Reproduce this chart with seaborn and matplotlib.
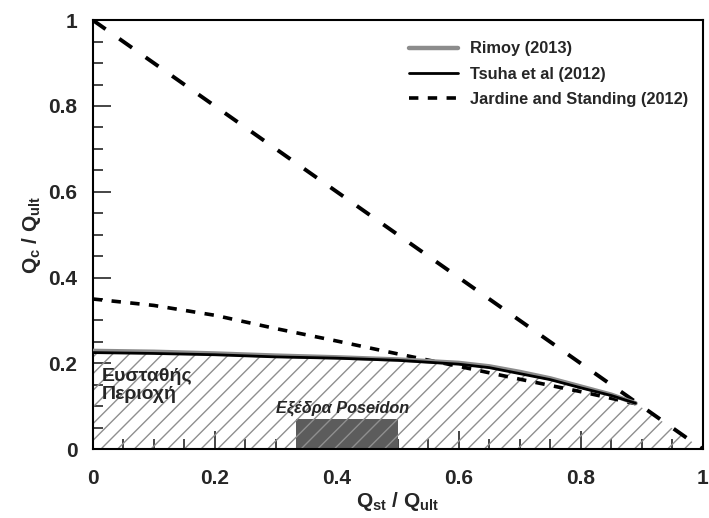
import numpy as np
import pandas as pd
import matplotlib
matplotlib.use("Agg")
import matplotlib.pyplot as plt
import seaborn as sns
from matplotlib.ticker import MultipleLocator, FuncFormatter

sns.set_theme(style="white")
plt.rcParams['font.family'] = ['Liberation Sans', 'DejaVu Sans']
plt.rcParams['hatch.linewidth'] = 1.0
plt.rcParams['mathtext.fontset'] = 'custom'
plt.rcParams['mathtext.bf'] = 'Liberation Sans:bold'
plt.rcParams['mathtext.rm'] = 'Liberation Sans:bold'

# Data
rimoy_x = [0.0, 0.1, 0.2, 0.3, 0.4, 0.5, 0.6, 0.65, 0.7, 0.75, 0.8, 0.85, 0.89]
rimoy_y = [0.229, 0.227, 0.223, 0.218, 0.214, 0.209, 0.201, 0.193, 0.180, 0.165, 0.146, 0.127, 0.107]
tsuha_x = [0.0, 0.1, 0.2, 0.3, 0.4, 0.5, 0.6, 0.65, 0.7, 0.75, 0.8, 0.85, 0.89]
tsuha_y = [0.225, 0.223, 0.220, 0.215, 0.212, 0.207, 0.198, 0.190, 0.176, 0.162, 0.143, 0.125, 0.107]
js_x = [0.0, 0.1, 0.2, 0.3, 0.4, 0.5, 0.6, 0.7, 0.8, 0.89]
js_y = [0.350, 0.335, 0.312, 0.281, 0.252, 0.222, 0.193, 0.163, 0.134, 0.106]
limit_x = [0.0, 1.0]
limit_y = [1.0, 0.0]
poseidon_x = [0.333, 0.5]
poseidon_y = 0.07

fig = plt.figure(figsize=(7.09, 5.18), dpi=100)
ax = fig.add_axes([0.131, 0.133, 0.860, 0.828])

# stable region (hatched)
reg_x = tsuha_x + [1.0]
reg_y = tsuha_y + [0.0]
ax.fill_between(poseidon_x, 0, poseidon_y, color='#5c5c5c', lw=0, zorder=1)
ax.fill_between(reg_x, 0, reg_y, facecolor='none', edgecolor='#8f8f8f', hatch='//', lw=0, zorder=2)

df_r = pd.DataFrame({'x': rimoy_x, 'y': rimoy_y})
df_t = pd.DataFrame({'x': tsuha_x, 'y': tsuha_y})
df_j = pd.DataFrame({'x': js_x, 'y': js_y})
df_l = pd.DataFrame({'x': limit_x, 'y': limit_y})

sns.lineplot(data=df_l, x='x', y='y', ax=ax, color='black', lw=2.8,
             sort=False, estimator=None, zorder=3)
ax.lines[-1].set_dashes([4.0, 4.3])
sns.lineplot(data=df_j, x='x', y='y', ax=ax, color='black', lw=2.6, sort=False,
             estimator=None, zorder=4, label='Jardine and Standing (2012)')
ax.lines[-1].set_dashes([2.6, 2.6])
sns.lineplot(data=df_r, x='x', y='y', ax=ax, color='#8c8c8c', lw=3.2, sort=False,
             estimator=None, zorder=5, label='Rimoy (2013)')
sns.lineplot(data=df_t, x='x', y='y', ax=ax, color='black', lw=2.0, sort=False,
             estimator=None, zorder=6, label='Tsuha et al (2012)')

handles, labels = ax.get_legend_handles_labels()
order = [labels.index('Rimoy (2013)'), labels.index('Tsuha et al (2012)'),
         labels.index('Jardine and Standing (2012)')]
leg = ax.legend([handles[i] for i in order], [labels[i] for i in order],
                loc='upper right', bbox_to_anchor=(1.0, 0.985), frameon=False,
                prop={'weight': 'bold', 'size': 11.8}, handlelength=3.0,
                labelspacing=0.62, handletextpad=0.7)

ax.text(0.015, 0.188, 'Ευσταθής\nΠεριοχή', fontsize=14, fontweight='bold',
        va='top', ha='left', zorder=7, linespacing=1.05)
ax.text(0.41, 0.078, 'Εξέδρα Poseidon', fontsize=11.7, fontweight='bold',
        style='italic', ha='center', va='bottom', zorder=7)

ax.set_xlim(0, 1)
ax.set_ylim(0, 1)
ax.xaxis.set_major_locator(MultipleLocator(0.2))
ax.xaxis.set_minor_locator(MultipleLocator(0.05))
ax.yaxis.set_major_locator(MultipleLocator(0.2))
ax.yaxis.set_minor_locator(MultipleLocator(0.05))
fmt = FuncFormatter(lambda v, p: ('%g' % round(v, 2)))
ax.xaxis.set_major_formatter(fmt)
ax.yaxis.set_major_formatter(fmt)
ax.tick_params(axis='both', which='major', direction='in', length=13, width=1.2,
               labelsize=15, bottom=True, left=True, top=False, right=False)
ax.tick_params(axis='x', which='major', pad=14)
ax.tick_params(axis='y', which='major', pad=11)
ax.tick_params(axis='both', which='minor', direction='in', length=7, width=1.2,
               bottom=True, left=True, top=False, right=False)
for lab in ax.get_xticklabels() + ax.get_yticklabels():
    lab.set_fontweight('bold')
for s in ax.spines.values():
    s.set_color('black')
    s.set_linewidth(1.5)

ax.set_xlabel(r'$\mathbf{Q_{st}}$ / $\mathbf{Q_{ult}}$', fontsize=15, fontweight='bold', labelpad=2)
ax.set_ylabel(r'$\mathbf{Q_{c}}$ / $\mathbf{Q_{ult}}$', fontsize=15, fontweight='bold', labelpad=4)

fig.savefig('out.png', dpi=100)
